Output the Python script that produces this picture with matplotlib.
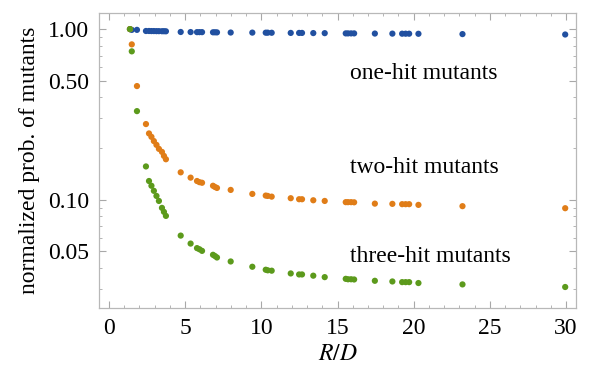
import numpy as np
import matplotlib.pyplot as plt
from matplotlib.ticker import FixedLocator, LogLocator, NullFormatter, MultipleLocator

plt.rcParams['font.family'] = ['Liberation Serif', 'DejaVu Serif']
plt.rcParams['mathtext.fontset'] = 'stix'

# R/D values shared by all three series
rd = [1.38, 1.5, 1.84, 2.43, 2.63, 2.79, 2.95, 3.12, 3.28, 3.48, 3.61, 3.74,
      4.71, 5.36, 5.78, 5.94, 6.11, 6.83, 6.96, 7.09, 7.99, 9.41, 10.29, 10.42,
      10.68, 11.93, 12.48, 12.67, 13.41, 14.16, 15.54, 15.69, 15.89, 16.09,
      17.45, 18.6, 19.24, 19.47, 19.7, 20.31, 23.2, 29.94]

one_hit = [1.0, 0.99, 0.99, 0.975, 0.975, 0.974, 0.974, 0.973, 0.973, 0.972,
           0.972, 0.971, 0.962, 0.961, 0.96, 0.96, 0.96, 0.958, 0.958, 0.957,
           0.955, 0.954, 0.953, 0.953, 0.952, 0.95, 0.95, 0.95, 0.948, 0.947,
           0.944, 0.944, 0.944, 0.944, 0.942, 0.941, 0.94, 0.94, 0.94, 0.939,
           0.935, 0.93]

two_hit = [1.0, 0.814, 0.464, 0.278, 0.245, 0.234, 0.221, 0.210, 0.199, 0.191,
           0.181, 0.173, 0.145, 0.135, 0.129, 0.127, 0.126, 0.121, 0.119, 0.1175,
           0.1144, 0.1084, 0.106, 0.1055, 0.1045, 0.1023, 0.1009, 0.1009, 0.0995,
           0.0986, 0.097, 0.097, 0.097, 0.0968, 0.0951, 0.0948, 0.0944, 0.0944,
           0.0944, 0.0935, 0.0919, 0.0894]

three_hit = [1.0, 0.741, 0.331, 0.157, 0.129, 0.121, 0.113, 0.1055, 0.0986, 0.0898,
             0.0851, 0.0806, 0.0618, 0.0555, 0.0522, 0.0514, 0.0503, 0.0477, 0.0469,
             0.046, 0.0436, 0.0406, 0.039, 0.0387, 0.0385, 0.0371, 0.0366, 0.0366,
             0.036, 0.0353, 0.0345, 0.0343, 0.0343, 0.0342, 0.0336, 0.0333, 0.033,
             0.033, 0.033, 0.0326, 0.032, 0.0309]

labels = ['one-hit mutants', 'two-hit mutants', 'three-hit mutants']
label_pos = [(15.8, 0.553), (15.8, 0.154), (15.8, 0.0464)]
colors = ['#2150a0', '#e07d18', '#5c9a1c']

fig = plt.figure(figsize=(5.92, 3.76), dpi=100)
ax = fig.add_axes([0.167, 0.181, 0.806, 0.784])

for ys, c in zip([one_hit, two_hit, three_hit], colors):
    ax.scatter(rd, ys, s=20, color=c, edgecolors='none', zorder=3)

for txt, (x, y) in zip(labels, label_pos):
    ax.text(x, y, txt, fontsize=17, va='center', ha='left')

ax.set_yscale('log')
ax.set_xlim(-0.66, 30.65)
ax.set_ylim(0.0233, 1.24)

ax.yaxis.set_major_locator(FixedLocator([0.05, 0.1, 0.5, 1.0]))
ax.set_yticklabels(['0.05', '0.10', '0.50', '1.00'])
ax.yaxis.set_minor_locator(LogLocator(base=10, subs=np.arange(2, 10)))
ax.yaxis.set_minor_formatter(NullFormatter())
ax.xaxis.set_major_locator(MultipleLocator(5))
ax.xaxis.set_minor_locator(MultipleLocator(1))

for sp in ax.spines.values():
    sp.set_color('#b8b8b8')
    sp.set_linewidth(0.9)

ax.tick_params(which='both', direction='in', top=True, right=True,
               color='#a8a8a8', labelsize=17)
ax.tick_params(which='major', length=5, width=0.8, pad=7)
ax.tick_params(which='minor', length=2.5, width=0.6)

ax.set_xlabel('$R/D$', fontsize=17, labelpad=4)
ax.set_ylabel('normalized prob. of mutants', fontsize=17, labelpad=6)

fig.savefig('out.png', dpi=100)
